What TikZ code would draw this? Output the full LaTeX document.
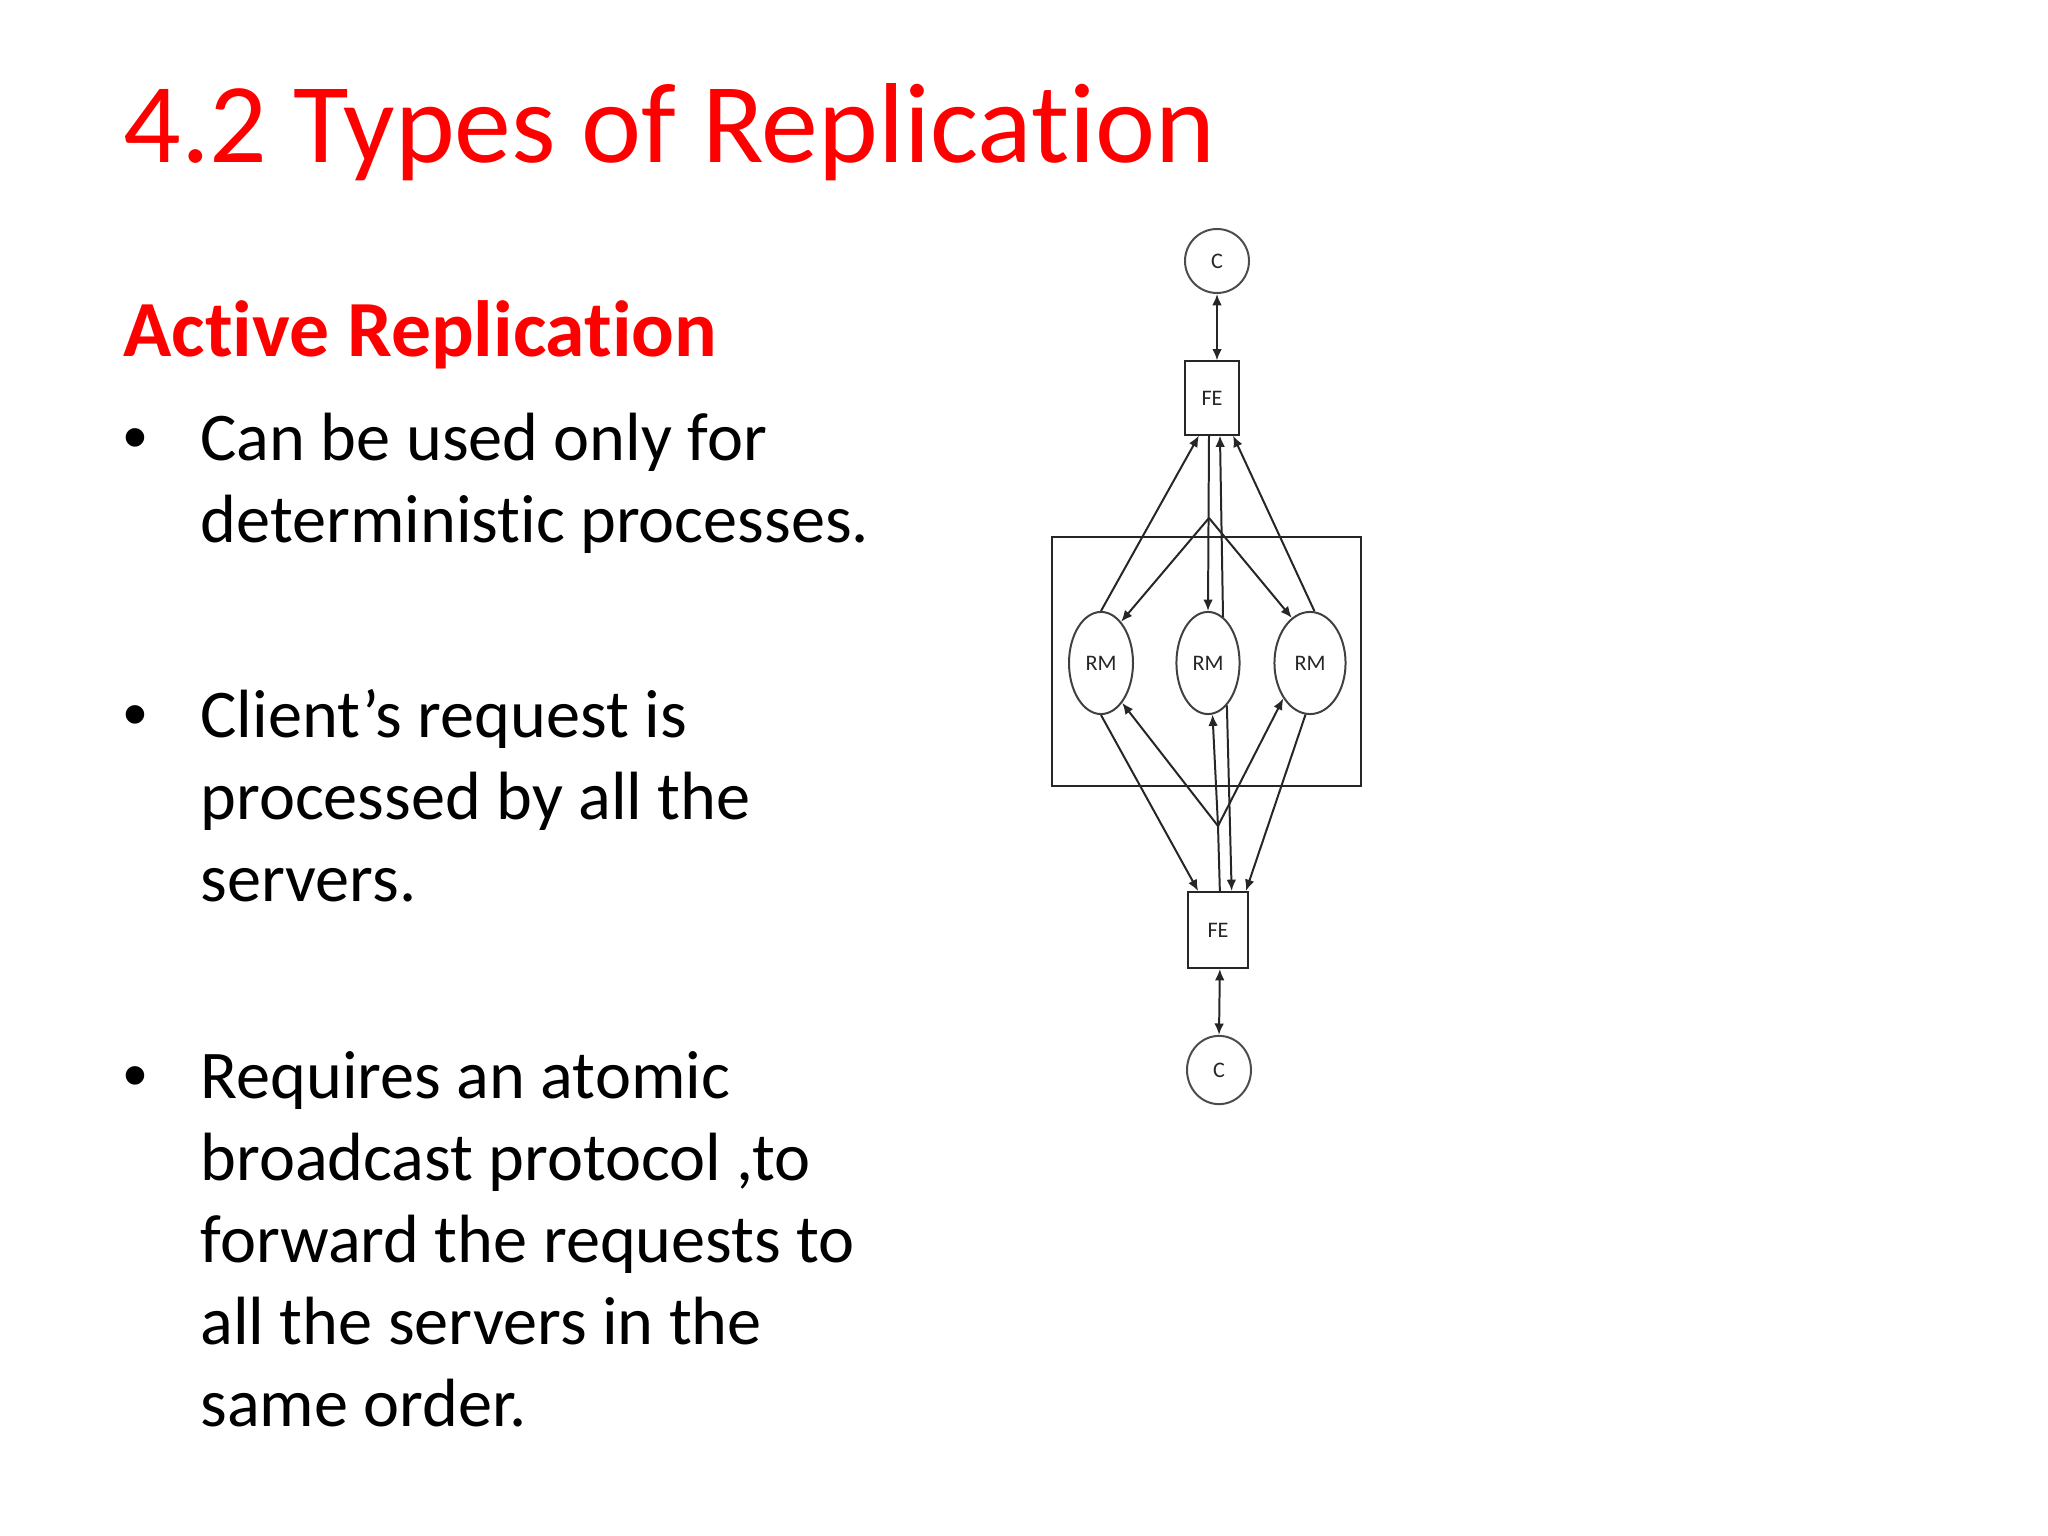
\documentclass[tikz,border=0pt]{standalone}
\usepackage{fontspec}
\setmainfont{Carlito}[Ligatures=NoCommon]
\newfontfamily\bulletfont{Liberation Sans}
\usetikzlibrary{shapes.geometric,arrows.meta,calc}
\definecolor{titlered}{RGB}{255,0,0}
\begin{document}
\begin{tikzpicture}[x=0.3515625pt,y=-0.3515625pt,
  lnk/.style={draw=black!85, line width=0.7pt},
  arrlnk/.style={lnk, -{Latex[length=4pt,width=3.4pt]}},
  darrlnk/.style={lnk, {Latex[length=4pt,width=3.4pt]}-{Latex[length=4pt,width=3.4pt]}},
  dfont/.style={font=\fontsize{7.8}{9}\selectfont, text=black!85},
  cnode/.style={draw=black!70, line width=0.7pt, ellipse, inner sep=0pt, minimum width=22.5pt, minimum height=22.5pt, dfont},
  fenode/.style={draw=black!85, line width=0.7pt, rectangle, inner sep=0pt, dfont},
  rmnode/.style={draw=black!75, line width=0.7pt, ellipse, inner sep=0pt, minimum height=35.9pt, dfont},
  grpbox/.style={draw=black!85, line width=0.7pt, rectangle, inner sep=0pt, minimum width=108.6pt, minimum height=87.5pt},
  titletxt/.style={anchor=base west, inner sep=0pt, text=titlered, font=\fontsize{40}{48}\selectfont},
  subtxt/.style={anchor=base west, inner sep=0pt, text=titlered, font=\bfseries\fontsize{28}{34}\selectfont},
  bodytxt/.style={anchor=base west, inner sep=0pt, font=\fontsize{24}{29}\selectfont},
  bullettxt/.style={anchor=base west, inner sep=0pt, font=\bulletfont\fontsize{24}{29}\selectfont},
]
\path[use as bounding box] (0,0) rectangle (2048,1536);

% texts
\node[titletxt] (title) at (123,163) {4.2 Types of Replication};
\node[subtxt] (sub) at (123,357) {Active Replication};

\node[bullettxt] (bu1) at (123,461) {•};
\node[bodytxt] (l11) at (200,461) {Can be used only for};
\node[bodytxt] (l12) at (200,543) {deterministic processes.};

\node[bullettxt] (bu2) at (123,737) {•};
\node[bodytxt] (l21) at (200,737) {Client’s request is};
\node[bodytxt] (l22) at (200,819) {processed by all the};
\node[bodytxt] (l23) at (200,901) {servers.};

\node[bullettxt] (bu3) at (123,1098) {•};
\node[bodytxt] (l31) at (200,1098) {Requires an atomic};
\node[bodytxt] (l32) at (200,1180) {broadcast protocol ,to};
\node[bodytxt] (l33) at (200,1262) {forward the requests to};
\node[bodytxt] (l34) at (200,1344) {all the servers in the};
\node[bodytxt] (l35) at (200,1426) {same order.};

% diagram
\node[grpbox] (grp) at (1206.5,661.5) {};
\node[cnode] (C1) at (1217,261) {C};
\node[fenode, minimum width=19.3pt, minimum height=25.7pt] (FE1) at (1212,398) {FE};
\node[rmnode, minimum width=22.5pt] (RM1) at (1101,663) {RM};
\node[rmnode, minimum width=22.2pt] (RM2) at (1208,663) {RM};
\node[rmnode, minimum width=25pt] (RM3) at (1310,663) {RM};
\node[fenode, minimum width=21.1pt, minimum height=26.7pt] (FE2) at (1218,930) {FE};
\node[cnode, minimum width=22.5pt, minimum height=24pt] (C2) at (1219,1070) {C};

\coordinate (b1) at (1209,518);
\coordinate (b2) at (1218,826);

% top connectors
\draw[darrlnk] (C1.south) -- (C1.south |- FE1.north);
\draw[arrlnk] (FE1.south -| b1) -- (RM2.north);
\draw[arrlnk] (b1) -- (RM1.64);
\draw[arrlnk] (b1) -- (RM3.112);
\draw[arrlnk] (RM1.north) -- ($(FE1.south west)!0.27!(FE1.south east)$);
\draw[arrlnk] (RM2.72) -- ($(FE1.south west)!0.64!(FE1.south east)$);
\draw[arrlnk] (RM3.85) -- ($(FE1.south west)!0.87!(FE1.south east)$);

% bottom connectors
\draw[lnk] ($(FE2.north west)!0.53!(FE2.north east)$) -- (b2);
\draw[arrlnk] (b2) -- (RM2.-85);
\draw[arrlnk] (b2) -- (RM1.-62);
\draw[arrlnk] (b2) -- (RM3.-127);
\draw[arrlnk] (RM1.south) -- ($(FE2.north west)!0.18!(FE2.north east)$);
\draw[arrlnk] (RM2.-66) -- ($(FE2.north west)!0.72!(FE2.north east)$);
\draw[arrlnk] (RM3.-95) -- ($(FE2.north west)!0.95!(FE2.north east)$);
\draw[darrlnk] ($(FE2.south west)!0.53!(FE2.south east)$) -- (C2.north);
\end{tikzpicture}
\end{document}
